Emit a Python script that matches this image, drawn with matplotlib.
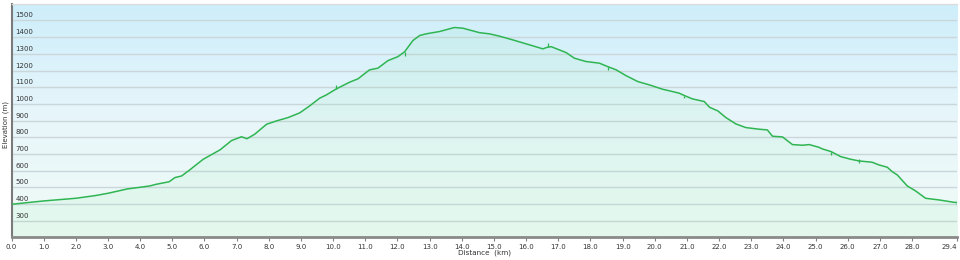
import numpy as np
import matplotlib
matplotlib.use("Agg")
import matplotlib.pyplot as plt
from matplotlib.colors import LinearSegmentedColormap

# ---- data ----
distance_km = [0.0, 1.0, 2.0, 2.6, 3.0, 3.6, 4.0, 4.3, 4.5, 4.82, 4.9, 5.08, 5.29, 5.54,
               5.96, 6.48, 6.84, 7.15, 7.32, 7.56, 7.93, 8.24, 8.6, 8.96, 9.27, 9.58,
               9.79, 10.1, 10.51, 10.77, 11.13, 11.39, 11.7, 12.01, 12.22, 12.48, 12.69,
               12.89, 13.31, 13.77, 14.03, 14.55, 14.86, 15.17, 15.58, 16.0, 16.52,
               16.67, 16.78, 17.03, 17.24, 17.5, 17.86, 18.28, 18.53, 18.8, 19.1, 19.47,
               19.83, 20.24, 20.55, 20.76, 20.92, 21.17, 21.54, 21.7, 21.96, 22.21,
               22.52, 22.83, 23.25, 23.5, 23.66, 23.97, 24.28, 24.59, 24.8, 25.1, 25.21,
               25.48, 25.78, 26.09, 26.35, 26.76, 26.97, 27.23, 27.38, 27.54, 27.85,
               28.11, 28.42, 28.84, 29.3, 29.4]
elevation_m = [398, 418, 434, 450, 464, 490, 500, 508, 518, 530, 533, 558, 568, 604,
               668, 724, 780, 803, 791, 818, 878, 898, 918, 946, 988, 1034,
               1054, 1090, 1130, 1150, 1204, 1214, 1259, 1283, 1312, 1380, 1410,
               1420, 1434, 1458, 1454, 1427, 1420, 1406, 1384, 1360, 1330,
               1340, 1343, 1324, 1308, 1274, 1254, 1244, 1224, 1204, 1170, 1134,
               1114, 1088, 1074, 1064, 1050, 1030, 1014, 980, 958, 918,
               880, 858, 848, 844, 806, 802, 756, 752, 756, 740, 730,
               714, 684, 668, 658, 650, 634, 620, 594, 574, 508,
               478, 434, 424, 410, 408]

# waypoint markers (small vertical ticks on the profile)
marker_km = [10.1, 12.22, 16.67, 18.53, 20.92, 25.48, 26.35, 29.4]
marker_lo = [1090, 1290, 1340, 1205, 1035, 695, 645, 385]
marker_hi = [1115, 1312, 1365, 1224, 1050, 714, 672, 428]

x_ticks = [float(i) for i in range(29)] + [29.4]
x_ticklabels = [f"{v:.1f}" for v in x_ticks]
y_labels = list(range(300, 1600, 100))

# ---- figure ----
fig = plt.figure(figsize=(9.6, 2.6), dpi=100)
ax = fig.add_axes([0.012, 0.0873, 0.985, 0.898])
ax.set_xlim(0, 29.4)
ax.set_ylim(200, 1600)

# background gradient
bg = LinearSegmentedColormap.from_list("bg", ["#f0fbf6", "#e8f6fb", "#cdeefa"])
grad = np.linspace(0, 1, 256).reshape(-1, 1)
ax.imshow(grad, aspect="auto", cmap=bg, origin="lower",
          extent=[0, 29.4, 200, 1600], zorder=0)

# gridlines
for v in range(300, 1600, 100):
    ax.axhline(v, color="#cbd6da", lw=1.0, zorder=1)

# profile
ax.fill_between(distance_km, elevation_m, 200, color="#5ee08c", alpha=0.08,
                lw=0, zorder=2)
ax.plot(distance_km, elevation_m, color="#2fb552", lw=1.1, zorder=3)
ax.vlines(marker_km, marker_lo, marker_hi, color="#2fb552", lw=0.9, zorder=3)

# y labels inside the plot
for v in y_labels:
    ax.text(0.12, v + 12, str(v), fontsize=5, color="#333333",
            ha="left", va="bottom", zorder=4)
ax.set_yticks([])

ax.set_xticks(x_ticks)
ax.set_xticklabels(x_ticklabels, fontsize=5, color="#333333")
ax.get_xticklabels()[-1].set_horizontalalignment("right")
ax.tick_params(axis="x", length=3, width=0.8, color="#808080", pad=1.5)

ax.spines["right"].set_visible(False)
ax.spines["top"].set_color("#dcdcdc")
ax.spines["top"].set_linewidth(1.0)
ax.spines["left"].set_color("#7a7a7a")
ax.spines["left"].set_linewidth(1.5)
ax.spines["bottom"].set_color("#8a8a8a")
ax.spines["bottom"].set_linewidth(2.0)

fig.text(0.0055, 0.52, "Elevation (m)", rotation=90, fontsize=5,
         color="#333333", ha="center", va="center")
fig.text(0.505, 0.027, "Distance  (km)", fontsize=5.2, color="#333333",
         ha="center", va="center")

fig.savefig("out.png", dpi=100, facecolor="white")
